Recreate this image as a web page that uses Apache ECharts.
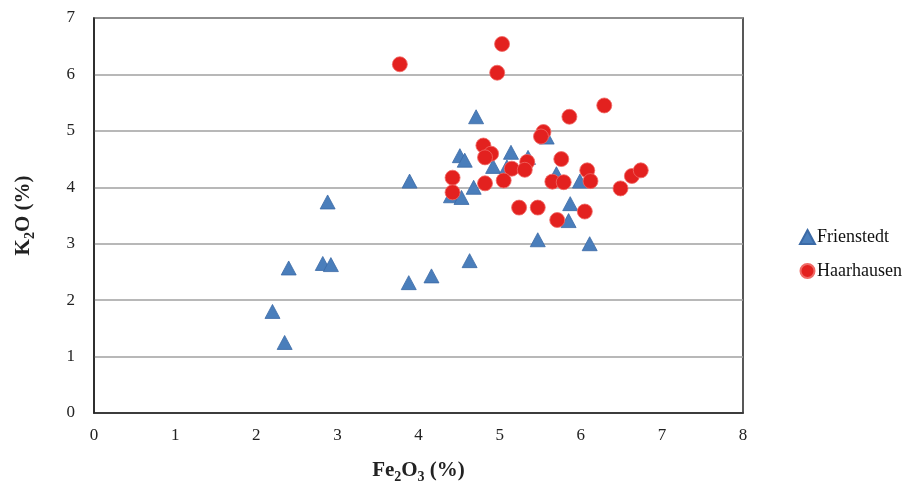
<!DOCTYPE html>
<html><head><meta charset="utf-8">
<script src="https://cdn.jsdelivr.net/npm/echarts@6/dist/echarts.min.js"></script>
<style>html,body{margin:0;padding:0;background:#fff}#c{width:913px;height:484px}</style>
</head><body><div id="c"></div>
<script>
const frienstedtX = [2.20, 2.35, 2.40, 2.82, 2.92, 2.88, 3.88, 3.89, 4.16, 4.40, 4.53, 4.51, 4.57, 4.68, 4.63, 4.71, 4.92, 5.09, 5.14, 5.35, 5.47, 5.58, 5.70, 5.87, 5.85, 5.99, 6.11];
const frienstedtY = [1.80, 1.25, 2.57, 2.65, 2.63, 3.74, 2.31, 4.11, 2.43, 3.85, 3.82, 4.56, 4.48, 4.00, 2.70, 5.25, 4.37, 4.36, 4.62, 4.53, 3.07, 4.89, 4.24, 3.71, 3.41, 4.11, 3.00];
const haarhausenX = [3.77, 5.03, 4.97, 6.29, 5.86, 5.54, 5.51, 4.80, 4.895, 4.82, 5.15, 5.34, 5.31, 4.42, 4.42, 4.82, 5.05, 5.76, 5.65, 5.79, 6.08, 6.12, 6.49, 6.63, 6.74, 5.24, 5.47, 5.71, 6.05];
const haarhausenY = [6.18, 6.54, 6.03, 5.45, 5.25, 4.98, 4.90, 4.74, 4.595, 4.53, 4.33, 4.45, 4.31, 4.17, 3.91, 4.07, 4.12, 4.50, 4.10, 4.09, 4.30, 4.11, 3.98, 4.20, 4.30, 3.64, 3.64, 3.42, 3.57];
const seriesNames = ['Frienstedt', 'Haarhausen'];
const xTicks = [0, 1, 2, 3, 4, 5, 6, 7, 8];
const yTicks = [0, 1, 2, 3, 4, 5, 6, 7];

const zip = (a, b) => a.map((v, i) => [v, b[i]]);
const font = 'Liberation Serif';
const chart = echarts.init(document.getElementById('c'));
chart.setOption({
  animation: false,
  textStyle: { fontFamily: font },
  grid: { left: 94, right: 170, top: 18, bottom: 71, show: true, borderColor: '#222', borderWidth: 1.5, containLabel: false, outerBoundsMode: 'none' },
  legend: {
    orient: 'vertical', left: 794, top: 223, itemGap: 16, itemWidth: 15, itemHeight: 14,
    textStyle: { fontFamily: font, fontSize: 18, color: '#111', padding: [0, 0, 0, -3] },
    data: seriesNames
  },
  xAxis: {
    type: 'value', min: xTicks[0], max: xTicks[xTicks.length - 1], interval: 1,
    axisLine: { lineStyle: { color: '#222', width: 1.5 } },
    axisTick: { show: false },
    splitLine: { show: false },
    axisLabel: { fontFamily: font, fontSize: 17, color: '#222', margin: 14 },
    name: '{b|Fe}{s|2}{b|O}{s|3}{b| (%)}', nameLocation: 'middle', nameGap: 45,
    nameTextStyle: { rich: {
      b: { fontFamily: font, fontSize: 21, fontWeight: 'bold', color: '#222', lineHeight: 26 },
      s: { fontFamily: font, fontSize: 14, fontWeight: 'bold', color: '#222', verticalAlign: 'bottom', lineHeight: 20, padding: [8, 0, 0, 0] }
    } }
  },
  yAxis: {
    type: 'value', min: yTicks[0], max: yTicks[yTicks.length - 1], interval: 1,
    axisLine: { lineStyle: { color: '#222', width: 1.5 } },
    axisTick: { show: false },
    splitLine: { lineStyle: { color: '#a0a0a0', width: 1.5 } },
    axisLabel: { fontFamily: font, fontSize: 17, color: '#222', margin: 19 },
    name: '{b|K}{s|2}{b|O (%)}', nameLocation: 'middle', nameGap: 57,
    nameTextStyle: { rich: {
      b: { fontFamily: font, fontSize: 21, fontWeight: 'bold', color: '#222', lineHeight: 26 },
      s: { fontFamily: font, fontSize: 14, fontWeight: 'bold', color: '#222', verticalAlign: 'bottom', lineHeight: 20, padding: [8, 0, 0, 0] }
    } }
  },
  series: [
    { name: seriesNames[0], type: 'scatter', symbol: 'triangle', symbolSize: [15, 14],
      itemStyle: { color: '#4a7ebb', borderColor: '#3b6aa6', borderWidth: 0.8, opacity: 1 },
      data: zip(frienstedtX, frienstedtY) },
    { name: seriesNames[1], type: 'scatter', symbol: 'circle', symbolSize: 15,
      itemStyle: { color: '#e3211f', borderColor: '#f06a66', borderWidth: 0.8, opacity: 1 },
      data: zip(haarhausenX, haarhausenY) }
  ]
});
</script></body></html>
